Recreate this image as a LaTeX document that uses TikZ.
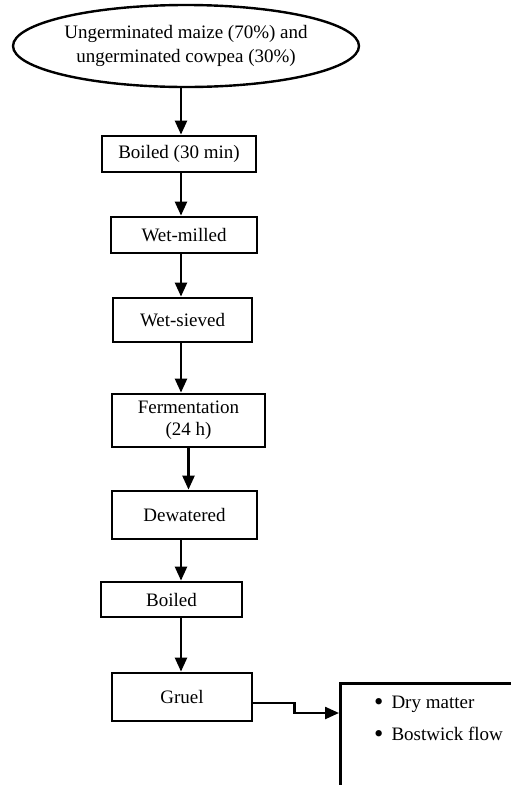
\documentclass[tikz,border=0pt]{standalone}
\usepackage{fontspec}
\setmainfont{Liberation Serif}
\usetikzlibrary{arrows.meta,positioning,calc,shapes.geometric}
\newcommand{\listdot}{\raisebox{-2pt}{\scalebox{1.4}{\textbullet}}}

\begin{document}
\begin{tikzpicture}[x=1pt, y=-1pt,
  every node/.style={font=\fontsize{19}{24}\selectfont},
  stage/.style={draw, line width=2.8pt, inner sep=0pt, align=center,
                minimum height=36pt},
  arr/.style={-{Triangle[length=14pt, width=12pt]}, line width=2.4pt}]
  \useasboundingbox (0,0) rectangle (511,785);
  \clip (0,0) rectangle (511,785);
  \coordinate (spine) at (181,0);
  \node[ellipse, draw, line width=2.4pt, inner sep=0pt, minimum width=346pt,
        minimum height=82pt, align=center] (src) at (186,46)
    {Ungerminated maize (70\%) and\\ungerminated cowpea (30\%)};
  \node[stage, minimum width=154pt] (boil30) at (179,154) {Boiled (30 min)};
  \node[stage, minimum width=146pt] (milled) at (184,235) {Wet-milled};
  \node[stage, minimum width=139pt, minimum height=44pt] (sieved) at (182.5,320) {Wet-sieved};
  \node[stage, minimum width=153pt, minimum height=53pt,
        font=\fontsize{19}{22}\selectfont] (ferm) at (188.5,420.5) {Fermentation\\(24 h)};
  \node[stage, minimum width=145pt, minimum height=48pt] (dew) at (184.5,515) {Dewatered};
  \node[stage, minimum width=141pt, minimum height=35pt] (boil) at (171.5,599.5) {Boiled};
  \node[stage, minimum width=140pt, minimum height=48pt] (gruel) at (182,697) {Gruel};
  \node[draw, line width=2.8pt, anchor=north west, minimum width=200pt,
        minimum height=130pt] (res) at (339,682) {};
  \node[anchor=north west, inner sep=0pt, align=left,
        font=\fontsize{19}{32}\selectfont] (items) at (374,696)
    {\listdot\hspace{8pt}Dry matter\\\listdot\hspace{8pt}Bostwick flow};
  % main line
  \draw[arr] (src.south -| spine) -- (boil30.north -| spine);
  \draw[arr] (boil30.south -| spine) -- (milled.north -| spine);
  \draw[arr] (milled.south -| spine) -- (sieved.north -| spine);
  \draw[arr] (sieved.south -| spine) -- (ferm.north -| spine);
  \draw[arr] (ferm.south) -- (ferm.south |- dew.north);
  \draw[arr] (dew.south -| spine) -- (boil.north -| spine);
  \draw[arr] (boil.south -| spine) -- (gruel.north -| spine);
  \draw[arr] ([yshift=-6pt]gruel.east) -- ++(41,0) |- ([yshift=-31pt]res.north west);
\end{tikzpicture}
\end{document}
